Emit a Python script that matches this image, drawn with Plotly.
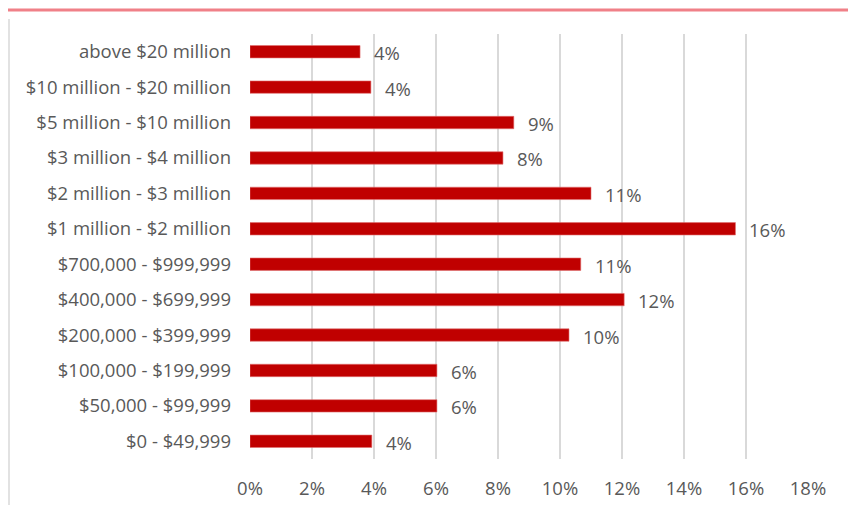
import plotly.graph_objects as go

categories = [
    "$0 - $49,999",
    "$50,000 - $99,999",
    "$100,000 - $199,999",
    "$200,000 - $399,999",
    "$400,000 - $699,999",
    "$700,000 - $999,999",
    "$1 million - $2 million",
    "$2 million - $3 million",
    "$3 million - $4 million",
    "$5 million - $10 million",
    "$10 million - $20 million",
    "above $20 million",
]
values = [3.93, 6.03, 6.03, 10.29, 12.07, 10.67, 15.66, 11.0, 8.16, 8.51, 3.9, 3.55]
tick_vals = [0, 2, 4, 6, 8, 10, 12, 14, 16, 18]
tick_text = [f"{v}%" for v in tick_vals]
labels = [f"{round(v)}%" for v in values]

# page body has an 8px margin, so the figure is offset by (8, 8)
OFF = 8
W, H = 856 - OFF, 505 - OFF
PL, PR, PT, PB = 250, 808, 34, 459  # plot area in window pixels
FONT = "'Open Sans', sans-serif"
FS = 18.5
TXT = "#595959"
pw, ph = PR - PL, PB - PT


def px(xw):
    return (xw - PL) / pw


def py(yw):
    return (PB - yw) / ph


fig = go.Figure()
fig.add_trace(go.Bar(
    x=values, y=categories, orientation="h",
    marker=dict(color="#C00000", line=dict(color="#E07070", width=0.6)),
    width=0.35,
    hoverinfo="skip",
))
for c, v, t in zip(categories, values, labels):
    fig.add_annotation(x=v, y=c, text=t, showarrow=False, xanchor="left",
                       xshift=12, yshift=-1, font=dict(family=FONT, size=FS, color=TXT))

fig.update_layout(
    width=W, height=H,
    margin=dict(l=PL - OFF, r=856 - PR, t=PT - OFF, b=505 - PB, pad=0,
                autoexpand=False),
    paper_bgcolor="white", plot_bgcolor="white",
    showlegend=False,
    font=dict(family=FONT, size=FS, color=TXT),
    xaxis=dict(range=[0, 18], tickvals=tick_vals, ticktext=tick_text,
               showgrid=True, gridcolor="#D9D9D9", gridwidth=1.5, automargin=False,
               zeroline=False, showline=False, ticks="", ticklabelstandoff=16,
               tickfont=dict(family=FONT, size=FS, color=TXT), fixedrange=True),
    yaxis=dict(categoryorder="array", categoryarray=categories, automargin=False,
               showgrid=False, zeroline=False, showline=False, ticks="",
               ticklabelstandoff=18, tickfont=dict(family=FONT, size=FS, color=TXT),
               fixedrange=True),
    shapes=[
        dict(type="line", xref="paper", yref="paper",
             x0=px(0), x1=px(856), y0=py(10), y1=py(10),
             line=dict(color="#F08088", width=3)),
        dict(type="line", xref="paper", yref="paper",
             x0=px(9), x1=px(9), y0=py(19), y1=py(505),
             line=dict(color="#D9D9D9", width=1.5)),
        dict(type="line", xref="paper", yref="paper",
             x0=px(852), x1=px(852), y0=py(19), y1=py(505),
             line=dict(color="#D9D9D9", width=1.5)),
    ],
)
fig.write_html("out.html", config={"displayModeBar": False})
